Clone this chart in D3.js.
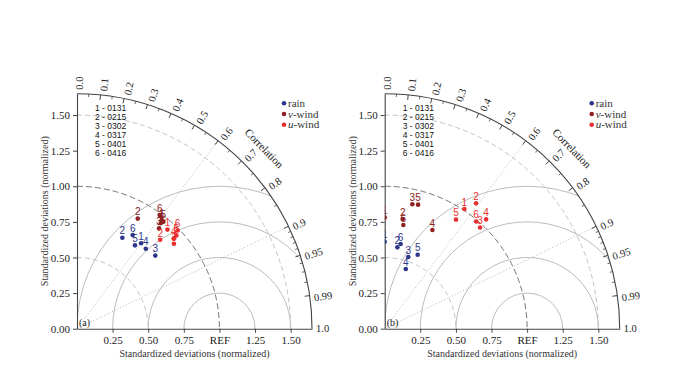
<!DOCTYPE html>
<html><head><meta charset="utf-8">
<script src="https://cdn.jsdelivr.net/npm/d3@7"></script>
<style>body{margin:0;background:#fff}</style>
</head><body>
<svg id="c" width="700" height="387"></svg>
<script>
// ---------- data ----------
const dates = ["0131","0215","0302","0317","0401","0416"];
const seriesNames = ["rain","v-wind","u-wind"];
const seriesColors = ["#2e368c","#8e2222","#ec2e2e"];
// panel (a): normalized std and correlation for cases 1..6
const aRainStd  = [0.750,0.714,0.752,0.741,0.713,0.765];
const aRainCor  = [0.600,0.446,0.731,0.652,0.571,0.511];
const aVStd     = [0.968,0.883,0.910,0.945,0.966,0.987];
const aVCor     = [0.615,0.483,0.633,0.622,0.628,0.588];
const aUStd     = [0.942,0.855,0.905,0.930,0.957,0.987];
const aUCor     = [0.674,0.683,0.752,0.731,0.729,0.716];
// panel (b)
const bRainStd  = [0.611,0.578,0.530,0.444,0.569,0.605];
const bRainCor  = [0.000,0.154,0.313,0.333,0.407,0.185];
const bVStd     = [0.780,0.780,0.895,0.770,0.902,0.740];
const bVCor     = [0.000,0.162,0.217,0.435,0.260,0.177];
const bUStd     = [1.010,1.089,0.976,1.047,0.915,0.989];
const bUCor     = [0.554,0.589,0.686,0.680,0.547,0.649];
// axis labels
const stdTicks = [0,0.25,0.5,0.75,1.0,1.25,1.5];
const corLabels = ["0.0","0.1","0.2","0.3","0.4","0.5","0.6","0.7","0.8","0.9","0.95","0.99","1.0"];
const corMinor = [0.05,0.15,0.25,0.35,0.45,0.55,0.65,0.75,0.85,0.91,0.92,0.93,0.94,0.96,0.97,0.98];
const rmsCircles = [0.25,0.5,0.75,1.0];
const stdDashed = [0.5,1.5];
const rays = [0.6,0.9];

const SERIF = "'Liberation Serif','Times New Roman',serif";
const SANS = "'Liberation Sans',Arial,sans-serif";
const MAXSTD = 1.65;
const svg = d3.select("#c");

function panel(ox, oy, tag, sets) {
  const r = d3.scaleLinear().domain([0, MAXSTD]).range([0, 235]);
  const R = r(MAXSTD);
  const g = svg.append("g").attr("transform", `translate(${ox},${oy})`);
  const pos = (s, c) => [r(s) * c, -r(s) * Math.sqrt(Math.max(0, 1 - c * c))];
  const cid = "clip" + tag;
  g.append("clipPath").attr("id", cid).append("path")
    .attr("d", `M0,0 L0,${-R} A${R},${R} 0 0 1 ${R},0 Z`);
  const cg = g.append("g").attr("clip-path", `url(#${cid})`);

  // RMS circles around REF
  rmsCircles.forEach(d => {
    cg.append("circle").attr("cx", r(1)).attr("cy", 0).attr("r", r(d))
      .attr("fill", "none").attr("stroke", "#b4b4b4").attr("stroke-width", 0.9);
  });
  // std dashed arcs
  stdDashed.forEach(d => {
    const rr = r(d);
    cg.append("path").attr("d", `M0,${-rr} A${rr},${rr} 0 0 1 ${rr},0`)
      .attr("fill", "none").attr("stroke", "#bdbdbd").attr("stroke-width", 0.9)
      .attr("stroke-dasharray", "5,3");
  });
  const r1 = r(1);
  cg.append("path").attr("d", `M0,${-r1} A${r1},${r1} 0 0 1 ${r1},0`)
    .attr("fill", "none").attr("stroke", "#666").attr("stroke-width", 0.9)
    .attr("stroke-dasharray", "6,3");
  // rays
  rays.forEach(c => {
    const p = pos(MAXSTD, c);
    cg.append("line").attr("x1", 0).attr("y1", 0).attr("x2", p[0]).attr("y2", p[1])
      .attr("stroke", "#b0b0b0").attr("stroke-width", 0.9).attr("stroke-dasharray", "1,2");
  });

  // outer arc
  g.append("path").attr("d", `M0,${-R} A${R},${R} 0 0 1 ${R},0`)
    .attr("fill", "none").attr("stroke", "#444").attr("stroke-width", 1.1);

  // y axis
  const ys = d3.scaleLinear().domain([0, MAXSTD]).range([0, -R]);
  const ya = g.append("g").call(d3.axisLeft(ys).tickValues(stdTicks.slice(0))
      .tickFormat(d3.format(".2f")).tickSize(4).tickSizeOuter(0).tickPadding(3));
  // x axis
  const xs = d3.scaleLinear().domain([0, MAXSTD]).range([0, R]);
  const xa = g.append("g").call(d3.axisBottom(xs).tickValues(stdTicks.slice(1))
      .tickFormat(d => d === 1 ? "REF" : d3.format(".2f")(d)).tickSize(4).tickSizeOuter(0).tickPadding(4));
  [ya, xa].forEach(a => {
    a.select(".domain").attr("stroke", "#444").attr("stroke-width", 1.1);
    a.selectAll(".tick line").attr("stroke", "#444");
    a.selectAll("text").attr("font-family", SERIF).attr("font-size", 11).attr("fill", "#222");
  });

  // correlation ticks
  corLabels.forEach(s => {
    const c = +s;
    const a = Math.acos(c);
    const p1 = pos(MAXSTD, c), p0 = [p1[0] * (R - 5) / R, p1[1] * (R - 5) / R];
    if (c > 0 && c < 1)
      g.append("line").attr("x1", p0[0]).attr("y1", p0[1]).attr("x2", p1[0]).attr("y2", p1[1])
        .attr("stroke", "#444").attr("stroke-width", 1);
    const pl = [(R + 4) * Math.cos(a), -(R + 4) * Math.sin(a)];
    g.append("text").attr("transform", `translate(${pl[0]},${pl[1]}) rotate(${-a * 180 / Math.PI})`)
      .attr("dy", "0.33em").attr("dy", c === 1 ? "0.33em" : "0.6em")
      .attr("font-family", SERIF).attr("font-size", 10.5).attr("fill", "#222").text(s);
  });
  corMinor.forEach(c => {
    const p1 = pos(MAXSTD, c), p0 = [p1[0] * (R - 3) / R, p1[1] * (R - 3) / R];
    g.append("line").attr("x1", p0[0]).attr("y1", p0[1]).attr("x2", p1[0]).attr("y2", p1[1])
      .attr("stroke", "#444").attr("stroke-width", 0.8);
  });
  const ca = Math.acos(0.72);
  g.append("text").attr("transform",
      `translate(${260 * Math.cos(ca)},${-260 * Math.sin(ca)}) rotate(${90 - ca * 180 / Math.PI})`)
    .attr("text-anchor", "middle").attr("dy", "0.35em")
    .attr("font-family", SERIF).attr("font-size", 11).attr("fill", "#222").text("Correlation");

  // axis titles
  g.append("text").attr("transform", `translate(-29,${-R / 2}) rotate(-90)`)
    .attr("text-anchor", "middle").attr("font-family", SERIF).attr("font-size", 10).attr("fill", "#333")
    .text("Standardized deviations (normalized)");
  g.append("text").attr("x", R / 2).attr("y", 28.5).attr("text-anchor", "middle")
    .attr("font-family", SERIF).attr("font-size", 10).attr("fill", "#333")
    .text("Standardized deviations (normalized)");
  g.append("text").attr("x", 2).attr("y", -2.5).attr("font-family", SERIF).attr("font-size", 10)
    .attr("fill", "#222").text(`(${tag})`);

  // date legend
  dates.forEach((d, i) => {
    g.append("text").attr("x", 18).attr("y", -R + 14.6 + 3 + i * 8.88)
      .attr("font-family", SANS).attr("font-size", 8.5).attr("fill", "#111")
      .text(`${i + 1} - ${d}`);
  });
  // series legend
  seriesNames.forEach((n, i) => {
    const ly = -R + 9.6 + i * 10.7;
    g.append("circle").attr("cx", 207).attr("cy", ly).attr("r", 2.3).attr("fill", seriesColors[i]);
    const t = g.append("text").attr("x", 211).attr("y", ly + 3.5)
      .attr("font-family", SERIF).attr("font-size", 11).attr("fill", "#333");
    if (i === 0) t.text(n);
    else {
      t.append("tspan").attr("font-style", "italic").text(n[0]);
      t.append("tspan").text(n.slice(1));
    }
  });

  // points
  const pg = g.append("g").attr("clip-path", `url(#${cid})`);
  sets.forEach((set, si) => {
    set[0].forEach((s, i) => {
      const p = pos(s, set[1][i]);
      pg.append("circle").attr("cx", p[0]).attr("cy", p[1]).attr("r", 2.3).attr("fill", seriesColors[si]);
      pg.append("text").attr("x", p[0]).attr("y", p[1] - 3.2).attr("text-anchor", "middle")
        .attr("font-family", SANS).attr("font-size", 10).attr("fill", seriesColors[si]).text(i + 1);
    });
  });
}

panel(77, 328.7, "a", [[aRainStd, aRainCor], [aVStd, aVCor], [aUStd, aUCor]]);
panel(384.7, 328.7, "b", [[bRainStd, bRainCor], [bVStd, bVCor], [bUStd, bUCor]]);
</script>
</body></html>
